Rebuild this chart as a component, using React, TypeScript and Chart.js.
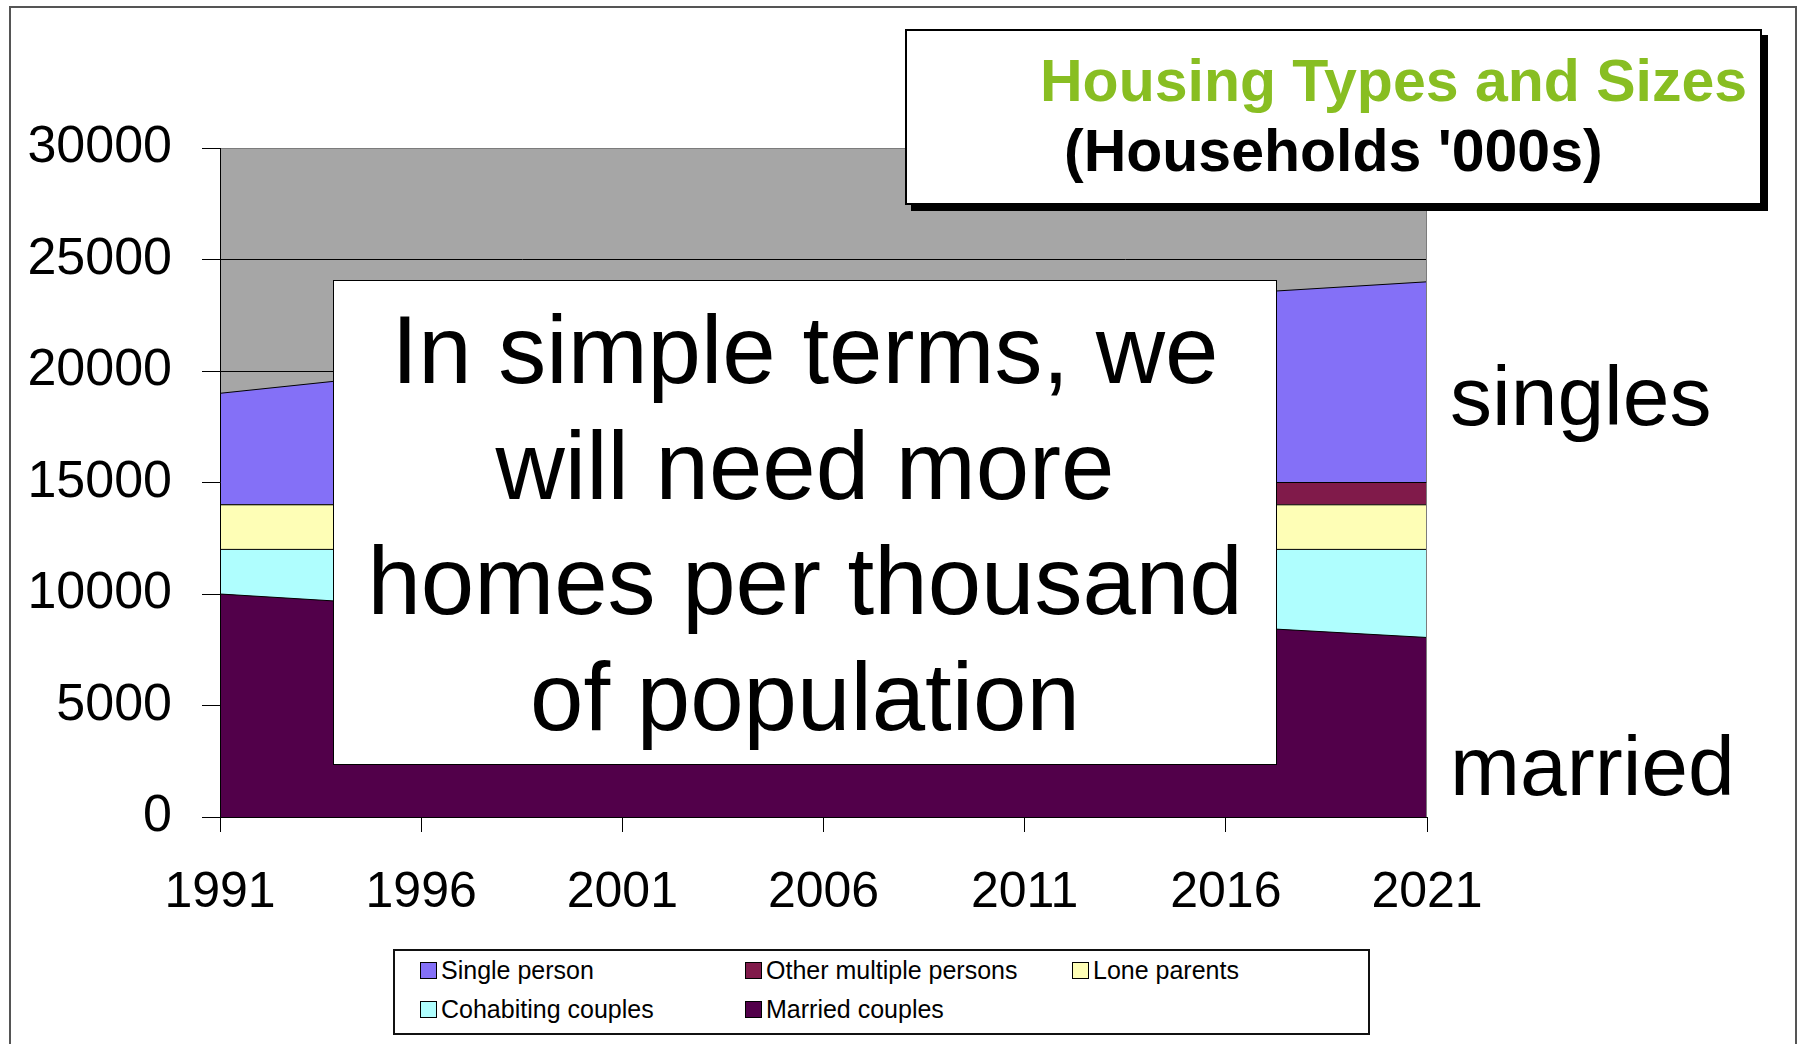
import React, { useEffect, useRef } from 'react';
import { Chart, registerables } from 'chart.js';

Chart.register(...registerables);

// ---- data (households, thousands) ----
const years = ['1991', '1996', '2001', '2006', '2011', '2016', '2021'];
const marriedCouples = [10000, 9450, 9200, 9000, 8800, 8550, 8050];
const cohabitingCouples = [2000, 2550, 2800, 3000, 3200, 3450, 3950];
const loneParents = [2000, 2000, 2000, 2000, 2000, 2000, 2000];
const otherMultiplePersons = [0, 0, 400, 700, 900, 1000, 1000];
const singlePerson = [5000, 5950, 6500, 7100, 7750, 8450, 9000];
const yMin = 0;
const yMax = 30000;
const yStep = 5000;

const seriesNames = ['Married couples', 'Cohabiting couples', 'Lone parents', 'Other multiple persons', 'Single person'];
const seriesValues = [marriedCouples, cohabitingCouples, loneParents, otherMultiplePersons, singlePerson];

// ---- styles ----
const seriesColors = ['#52004A', '#AFFEFE', '#FEFEB6', '#801A4A', '#8470F7'];
const FONT = '"Liberation Sans", Arial, Helvetica, sans-serif';
const PLOT_BG = '#A6A6A6';

const plotAreaPlugin = {
  id: 'plotArea',
  beforeDraw(chart: any) {
    const { ctx, chartArea: a } = chart;
    ctx.save();
    ctx.fillStyle = PLOT_BG;
    ctx.fillRect(a.left, a.top, a.right - a.left, a.bottom - a.top);
    ctx.restore();
  },
  afterDatasetsDraw(chart: any) {
    const { ctx, chartArea: a } = chart;
    ctx.save();
    ctx.lineWidth = 1;
    ctx.strokeStyle = '#7c7c7c';
    ctx.beginPath();
    ctx.moveTo(a.left, Math.round(a.top) + 0.5);
    ctx.lineTo(a.right, Math.round(a.top) + 0.5);
    ctx.moveTo(Math.round(a.right) - 0.5, a.top);
    ctx.lineTo(Math.round(a.right) - 0.5, a.bottom);
    ctx.stroke();
    ctx.strokeStyle = '#000';
    ctx.beginPath();
    ctx.moveTo(Math.round(a.left) + 0.5, a.top);
    ctx.lineTo(Math.round(a.left) + 0.5, Math.round(a.bottom) + 0.5);
    ctx.lineTo(a.right, Math.round(a.bottom) + 0.5);
    ctx.stroke();
    ctx.restore();
  },
};

const legendOrder = [4, 3, 2, 1, 0];
const legendPos = [
  { x: 420, y: 970 },
  { x: 745, y: 970 },
  { x: 1072, y: 970 },
  { x: 420, y: 1009 },
  { x: 745, y: 1009 },
];

export default function App() {
  const ref = useRef<HTMLCanvasElement>(null);

  useEffect(() => {
    if (!ref.current) return;
    const chart = new Chart(ref.current, {
      type: 'line',
      data: {
        labels: years,
        datasets: seriesNames.map((name, i) => ({
          label: name,
          data: seriesValues[i],
          backgroundColor: seriesColors[i],
          borderColor: '#000',
          borderWidth: 1,
          fill: i === 0 ? 'origin' : '-1',
          pointRadius: 0,
          tension: 0,
        })),
      },
      options: {
        responsive: false,
        animation: false,
        events: [],
        layout: { padding: { left: 0, top: 148, right: 371, bottom: 0 } },
        plugins: {
          legend: { display: false },
          tooltip: { enabled: false },
          title: { display: false },
        },
        scales: {
          x: {
            offset: false,
            grid: {
              drawOnChartArea: false,
              drawTicks: true,
              tickLength: 15,
              color: '#000',
              lineWidth: 1,
            },
            border: { color: '#000', width: 1 },
            ticks: {
              color: '#000',
              font: { family: FONT, size: 50 },
              padding: 31,
              autoSkip: false,
              maxRotation: 0,
              minRotation: 0,
            },
            afterFit: (s: any) => {
              s.height = 227;
            },
          },
          y: {
            stacked: true,
            min: yMin,
            max: yMax,
            grid: {
              color: (c: any) => (c.tick && c.tick.value === yMax ? '#7c7c7c' : '#000'),
              tickColor: '#000',
              lineWidth: 1,
              tickLength: 18,
            },
            border: { color: '#000', width: 1 },
            ticks: {
              stepSize: yStep,
              color: '#000',
              font: { family: FONT, size: 52 },
              padding: 30,
              callback: (v: any) => String(v),
            },
            afterFit: (s: any) => {
              s.width = 220;
            },
          },
        },
      },
      plugins: [plotAreaPlugin],
    } as any);
    return () => chart.destroy();
  }, []);

  const abs = (o: any) => ({ position: 'absolute' as const, ...o });

  return (
    <div
      style={{
        position: 'fixed',
        left: 0,
        top: 0,
        width: 1798,
        height: 1044,
        overflow: 'hidden',
        background: '#fff',
        fontFamily: FONT,
      }}
    >
      <div style={abs({ left: 9, top: 6, width: 1788, height: 1100, border: '2px solid #555', boxSizing: 'border-box' })} />
      <canvas ref={ref} width={1798} height={1044} style={abs({ left: 0, top: 0, width: 1798, height: 1044 })} />

      {/* title box */}
      <div
        style={abs({
          left: 905,
          top: 29,
          width: 857,
          height: 176,
          border: '2px solid #000',
          boxSizing: 'border-box',
          background: '#fff',
          boxShadow: '6px 6px 0 #000',
        })}
      />
      <div style={abs({ left: 1040, top: 52, fontSize: 59, lineHeight: '59px', fontWeight: 'bold', color: '#88BE22', whiteSpace: 'nowrap' })}>
        Housing Types and Sizes
      </div>
      <div style={abs({ left: 1064, top: 122, fontSize: 59, lineHeight: '59px', fontWeight: 'bold', color: '#000', whiteSpace: 'nowrap' })}>
        (Households '000s)
      </div>

      {/* message box */}
      <div
        style={abs({
          left: 333,
          top: 280,
          width: 944,
          height: 485,
          border: '1.5px solid #000',
          boxSizing: 'border-box',
          background: '#fff',
        })}
      />
      <div
        style={abs({
          left: 333,
          top: 292,
          width: 944,
          textAlign: 'center',
          fontSize: 96,
          lineHeight: '115.5px',
          color: '#000',
          whiteSpace: 'nowrap',
        })}
      >
        In simple terms, we
        <br />
        will need more
        <br />
        homes per thousand
        <br />
        of population
      </div>

      <div style={abs({ left: 1450, top: 354, fontSize: 84, lineHeight: '84px', color: '#000' })}>singles</div>
      <div style={abs({ left: 1450, top: 724, fontSize: 84, lineHeight: '84px', color: '#000' })}>married</div>

      {/* legend */}
      <div
        style={abs({
          left: 393,
          top: 949,
          width: 977,
          height: 86,
          border: '2px solid #111',
          boxSizing: 'border-box',
          background: '#fff',
        })}
      />
      {legendOrder.map((si, k) => (
        <div
          key={seriesNames[si]}
          style={abs({
            left: legendPos[k].x,
            top: legendPos[k].y - 15,
            height: 30,
            display: 'flex',
            alignItems: 'center',
            whiteSpace: 'nowrap',
          })}
        >
          <span
            style={{
              display: 'inline-block',
              width: 15,
              height: 15,
              background: seriesColors[si],
              border: '1px solid #000',
              marginRight: 4,
            }}
          />
          <span style={{ fontSize: 25, lineHeight: '30px', color: '#000' }}>{seriesNames[si]}</span>
        </div>
      ))}
    </div>
  );
}
